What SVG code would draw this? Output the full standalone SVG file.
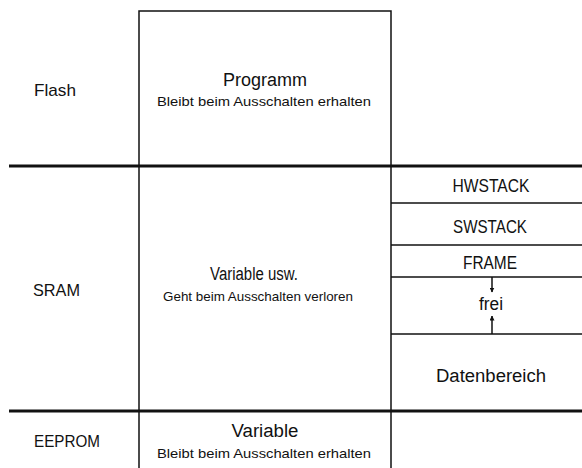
<svg xmlns="http://www.w3.org/2000/svg" width="582" height="468" viewBox="0 0 582 468">
<defs>
<style>
text{font-family:"Liberation Sans","DejaVu Sans",sans-serif;fill:#111;}
.lbl{font-size:17px;}
.t{font-size:18px;text-anchor:middle;}
.s{font-size:13px;text-anchor:middle;}
.thin{stroke:#111;stroke-width:1.5;fill:none;}
.thick{stroke:#111;stroke-width:3;fill:none;}
</style>
<marker id="ah" viewBox="0 0 10 10" refX="9" refY="5" markerWidth="5" markerHeight="5" orient="auto" markerUnits="userSpaceOnUse">
<path d="M0,0 L10,5 L0,10 z" fill="#111"/>
</marker>
</defs>
<rect width="582" height="468" fill="#fff"/>
<g id="frame">
<path class="thin" d="M139,468 V11 H391 V468"/>
<line class="thick" x1="9" y1="166" x2="582" y2="166"/>
<line class="thick" x1="9" y1="411" x2="582" y2="411"/>
</g>
<g id="flash-label"><text class="lbl" x="34" y="96" textLength="42" lengthAdjust="spacingAndGlyphs">Flash</text></g>
<g id="sram-label"><text class="lbl" x="33" y="296" textLength="47" lengthAdjust="spacingAndGlyphs">SRAM</text></g>
<g id="eeprom-label"><text class="lbl" x="34" y="447" textLength="66" lengthAdjust="spacingAndGlyphs">EEPROM</text></g>
<g id="programm">
<text class="t" x="265" y="86" textLength="84" lengthAdjust="spacingAndGlyphs">Programm</text>
<text class="s" x="264" y="106" textLength="214" lengthAdjust="spacingAndGlyphs">Bleibt beim Ausschalten erhalten</text>
</g>
<g id="variable-usw">
<text class="t" x="254" y="280" textLength="88" lengthAdjust="spacingAndGlyphs">Variable usw.</text>
<text class="s" x="258" y="301" textLength="190" lengthAdjust="spacingAndGlyphs">Geht beim Ausschalten verloren</text>
</g>
<g id="variable-eeprom">
<text class="t" x="265" y="437" textLength="67" lengthAdjust="spacingAndGlyphs">Variable</text>
<text class="s" x="264" y="458" textLength="214" lengthAdjust="spacingAndGlyphs">Bleibt beim Ausschalten erhalten</text>
</g>
<g id="hwstack">
<line class="thin" x1="391" y1="203" x2="582" y2="203"/>
<text class="t" x="491" y="192" textLength="77" lengthAdjust="spacingAndGlyphs">HWSTACK</text>
</g>
<g id="swstack">
<line class="thin" x1="391" y1="245" x2="582" y2="245"/>
<text class="t" x="490" y="233" textLength="74" lengthAdjust="spacingAndGlyphs">SWSTACK</text>
</g>
<g id="frame-block">
<line class="thin" x1="391" y1="277" x2="582" y2="277"/>
<text class="t" x="490" y="269" textLength="54" lengthAdjust="spacingAndGlyphs">FRAME</text>
</g>
<g id="frei">
<line class="thin" x1="391" y1="334" x2="582" y2="334"/>
<text class="t" x="491" y="310" font-size="15" textLength="24" lengthAdjust="spacingAndGlyphs">frei</text>
</g>
<g id="datenbereich">
<text class="t" x="491" y="382" textLength="110" lengthAdjust="spacingAndGlyphs">Datenbereich</text>
</g>
<g id="connectors">
<line class="thin" x1="492" y1="277" x2="492" y2="292" marker-end="url(#ah)"/>
<line class="thin" x1="492" y1="334" x2="492" y2="316" marker-end="url(#ah)"/>
</g>
</svg>
